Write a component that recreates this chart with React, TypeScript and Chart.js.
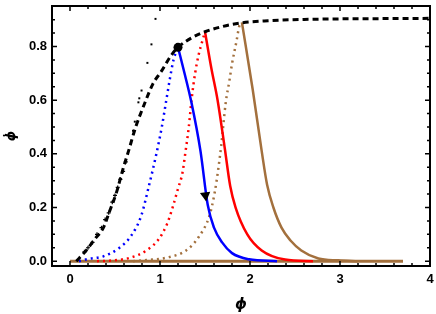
import React, { useEffect, useRef } from "react";
import { Chart, registerables } from "chart.js";

Chart.register(...registerables);

// ---- data ----
const blackDashX = [0.07, 0.18, 0.28, 0.37, 0.44, 0.52, 0.59, 0.65, 0.73, 0.82, 0.92, 1.02, 1.12, 1.2, 1.35, 1.5, 1.7, 1.9, 2.2, 2.6, 3.0, 3.5, 4.0];
const blackDashY = [0.0, 0.04, 0.084, 0.124, 0.186, 0.26, 0.345, 0.41, 0.5, 0.58, 0.66, 0.71, 0.765, 0.797, 0.832, 0.855, 0.875, 0.888, 0.896, 0.901, 0.903, 0.904, 0.905];

const strayX = [0.95, 0.905, 0.86, 0.795, 0.77, 0.76, 0.72, 0.7];
const strayY = [0.903, 0.808, 0.739, 0.636, 0.607, 0.592, 0.52, 0.486];

const noiseX = [0.16, 0.2, 0.25, 0.3, 0.35, 0.39, 0.43, 0.47, 0.5, 0.53, 0.56, 0.59, 0.62];
const noiseY = [0.035, 0.05, 0.07, 0.1, 0.125, 0.155, 0.18, 0.22, 0.245, 0.275, 0.305, 0.335, 0.37];

const blueDotX = [0.1, 0.2, 0.37, 0.55, 0.68, 0.79, 0.88, 0.96, 1.02, 1.07, 1.11, 1.15, 1.2];
const blueDotY = [0.0, 0.008, 0.018, 0.05, 0.095, 0.168, 0.285, 0.4, 0.5, 0.6, 0.68, 0.75, 0.797];

const redDotX = [0.3, 0.44, 0.66, 0.85, 0.99, 1.08, 1.14, 1.2, 1.25, 1.28, 1.32, 1.35, 1.39, 1.43, 1.47, 1.5];
const redDotY = [0.0, 0.002, 0.012, 0.04, 0.084, 0.14, 0.2, 0.27, 0.33, 0.4, 0.5, 0.6, 0.7, 0.77, 0.82, 0.855];

const brownDotX = [0.7, 0.85, 1.1, 1.29, 1.43, 1.55, 1.61, 1.65, 1.68, 1.73, 1.77, 1.8, 1.85, 1.88, 1.9];
const brownDotY = [0.0, 0.004, 0.015, 0.04, 0.09, 0.17, 0.26, 0.35, 0.43, 0.59, 0.67, 0.735, 0.82, 0.875, 0.89];

const blueX = [1.2, 1.28, 1.35, 1.45, 1.53, 1.6, 1.69, 1.8, 1.99, 2.3];
const blueY = [0.797, 0.69, 0.59, 0.41, 0.21, 0.125, 0.07, 0.03, 0.007, 0.0];

const redX = [1.5, 1.57, 1.64, 1.72, 1.78, 1.84, 1.97, 2.13, 2.39, 2.7];
const redY = [0.855, 0.72, 0.6, 0.42, 0.28, 0.2, 0.1, 0.04, 0.006, 0.0];

const brownX = [1.91, 2.03, 2.13, 2.19, 2.26, 2.35, 2.45, 2.57, 2.76, 2.98, 3.2];
const brownY = [0.89, 0.64, 0.41, 0.285, 0.2, 0.125, 0.077, 0.04, 0.01, 0.003, 0.0];

const flatX = [0, 3.7];
const flatY = [0, 0];

const fixedPointX = [1.2];
const fixedPointY = [0.797];

const arrowX = [1.505];
const arrowY = [0.245];

const xMajorTicks = [0, 1, 2, 3, 4];
const yMajorTicks = [0, 0.2, 0.4, 0.6, 0.8];
const xMinorStep = 0.2;
const yMinorStep = 0.05;

const yTitle = "ϕ";
const xTitle = "ϕ";

const BLUE = "#0000ff";
const RED = "#ff0000";
const BROWN = "#a3703d";

const pts = (xs: number[], ys: number[]) => xs.map((x, i) => ({ x, y: ys[i] }));

const framePlugin = {
  id: "frame",
  afterDatasetsDraw(chart: any) {
    const { ctx, chartArea: a, scales } = chart;
    const xs = scales.x;
    const ys = scales.y;
    ctx.save();
    ctx.strokeStyle = "#000";
    ctx.lineWidth = 2;
    ctx.strokeRect(a.left, a.top, a.right - a.left, a.bottom - a.top);
    ctx.lineWidth = 1.5;
    const drawX = (v: number, len: number) => {
      const p = xs.getPixelForValue(v);
      if (p < a.left + 1 || p > a.right - 1) return;
      ctx.beginPath();
      ctx.moveTo(p, a.bottom);
      ctx.lineTo(p, a.bottom - len);
      ctx.moveTo(p, a.top);
      ctx.lineTo(p, a.top + len);
      ctx.stroke();
    };
    const drawY = (v: number, len: number) => {
      const p = ys.getPixelForValue(v);
      if (p < a.top + 1 || p > a.bottom - 1) return;
      ctx.beginPath();
      ctx.moveTo(a.left, p);
      ctx.lineTo(a.left + len, p);
      ctx.moveTo(a.right, p);
      ctx.lineTo(a.right - len, p);
      ctx.stroke();
    };
    for (let k = Math.ceil(xs.min / xMinorStep - 1e-6); k * xMinorStep <= xs.max + 1e-6; k++) {
      const v = k * xMinorStep;
      const major = xMajorTicks.some((m) => Math.abs(m - v) < 1e-6);
      drawX(v, major ? 5 : 3);
    }
    for (let k = Math.ceil(ys.min / yMinorStep - 1e-6); k * yMinorStep <= ys.max + 1e-6; k++) {
      const v = k * yMinorStep;
      const major = yMajorTicks.some((m) => Math.abs(m - v) < 1e-6);
      drawY(v, major ? 5 : 3);
    }
    // y-axis title: phi with an overdot, rotated
    const cy = (a.top + a.bottom) / 2;
    ctx.translate(12, cy);
    ctx.rotate(-Math.PI / 2);
    ctx.fillStyle = "#000";
    ctx.font = "italic bold 13px 'DejaVu Sans', sans-serif";
    ctx.textAlign = "center";
    ctx.textBaseline = "middle";
    ctx.fillText(yTitle, 0, 0);
    ctx.beginPath();
    ctx.arc(0.5, -8, 1.1, 0, Math.PI * 2);
    ctx.fill();
    ctx.restore();
  },
};

export default function App() {
  const ref = useRef<HTMLCanvasElement | null>(null);
  useEffect(() => {
    document.body.style.margin = "0";
    if (!ref.current) return;
    const tickFont = { family: "'Liberation Sans', Arial, sans-serif", weight: "bold" as const, size: 13 };
    const titleFont = { family: "'DejaVu Sans', sans-serif", weight: "bold" as const, style: "italic" as const, size: 15, lineHeight: 1 };
    const line = (xs: number[], ys: number[], color: string, extra: any = {}) => ({
      type: "line" as const,
      data: pts(xs, ys),
      borderColor: color,
      backgroundColor: color,
      borderWidth: 2.5,
      pointRadius: 0,
      fill: false,
      cubicInterpolationMode: "monotone" as const,
      ...extra,
    });
    const dotted = { borderDash: [2, 4], borderWidth: 2.5 };
    const chart = new Chart(ref.current, {
      type: "line",
      data: {
        datasets: [
          {
            type: "scatter" as const,
            data: pts(arrowX, arrowY),
            pointStyle: "triangle",
            rotation: 173,
            pointRadius: 6,
            backgroundColor: "#000",
            borderColor: "#000",
            borderWidth: 0,
          },
          {
            type: "scatter" as const,
            data: pts(fixedPointX, fixedPointY),
            pointRadius: 4.5,
            backgroundColor: "#000",
            borderColor: "#000",
            borderWidth: 0,
          },
          line(blackDashX, blackDashY, "#000", { borderDash: [6, 4], borderWidth: 3 }),
          {
            type: "scatter" as const,
            data: pts(noiseX, noiseY),
            pointStyle: "cross",
            pointRadius: 2,
            borderWidth: 1.2,
            backgroundColor: "#000",
            borderColor: "#000",
          },
          {
            type: "scatter" as const,
            data: pts(strayX, strayY),
            pointStyle: "rect",
            pointRadius: 1.4,
            borderWidth: 0,
            backgroundColor: "#000",
            borderColor: "#000",
          },
          line(blueX, blueY, BLUE),
          line(redX, redY, RED),
          line(brownX, brownY, BROWN),
          line(blueDotX, blueDotY, BLUE, dotted),
          line(redDotX, redDotY, RED, dotted),
          line(brownDotX, brownDotY, BROWN, dotted),
          line(flatX, flatY, BROWN, { borderWidth: 3, cubicInterpolationMode: "default", tension: 0 }),
        ],
      },
      options: {
        animation: false,
        responsive: false,
        events: [],
        layout: { padding: { left: 0, right: 4, top: 1, bottom: 0 } },
        plugins: { legend: { display: false }, tooltip: { enabled: false } },
        scales: {
          x: {
            type: "linear",
            min: -0.2,
            max: 4,
            grid: { display: false, drawTicks: false },
            border: { display: false },
            afterBuildTicks: (s: any) => {
              s.ticks = xMajorTicks.map((v) => ({ value: v }));
            },
            afterFit: (s: any) => {
              s.height = 48;
              s.paddingLeft = 0;
              s.paddingRight = 0;
            },
            ticks: {
              padding: 6,
              color: "#000",
              font: tickFont,
              maxRotation: 0,
              callback: (v: any) => String(v),
            },
            title: { display: true, text: xTitle, color: "#000", font: titleFont, padding: { top: 0, bottom: 1 } },
          },
          y: {
            type: "linear",
            min: -0.018,
            max: 0.951,
            grid: { display: false, drawTicks: false },
            border: { display: false },
            afterBuildTicks: (s: any) => {
              s.ticks = yMajorTicks.map((v) => ({ value: v }));
            },
            afterFit: (s: any) => {
              s.width = 52;
              s.paddingTop = 0;
              s.paddingBottom = 0;
            },
            ticks: {
              padding: 5,
              color: "#000",
              font: tickFont,
              callback: (v: any) => Number(v).toFixed(1),
            },
            title: { display: false },
          },
        },
      },
      plugins: [framePlugin],
    });
    return () => chart.destroy();
  }, []);
  return (
    <div style={{ width: 436, height: 314 }}>
      <canvas ref={ref} width={436} height={314} />
    </div>
  );
}
